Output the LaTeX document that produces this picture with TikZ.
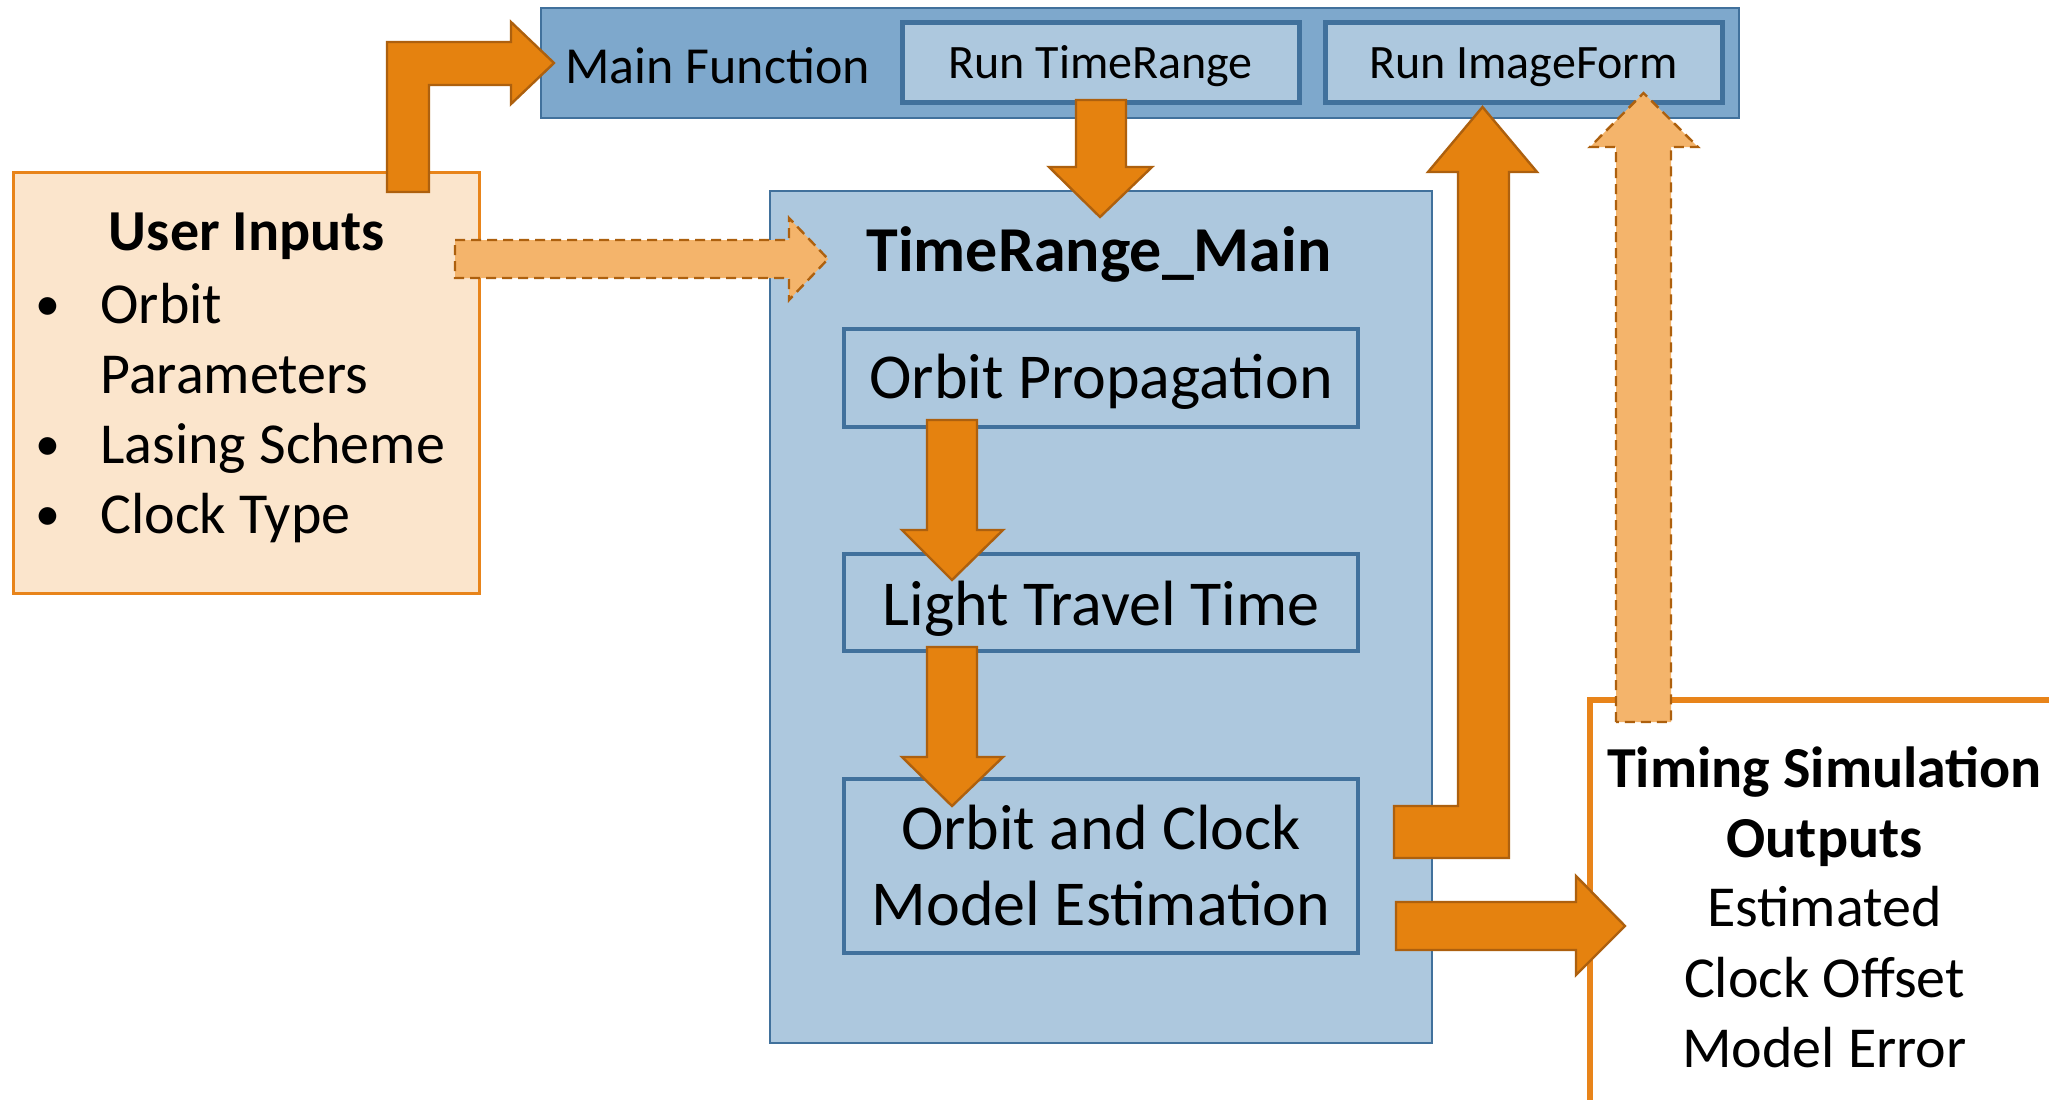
\documentclass[tikz,border=0pt]{standalone}
\usepackage{fontspec}
\setmainfont{Carlito}
\usetikzlibrary{fit}
\definecolor{barfill}{HTML}{7EA8CC}
\definecolor{boxfill}{HTML}{ADC8DE}
\definecolor{blueline}{HTML}{41719C}
\definecolor{orfill}{HTML}{E5820F}
\definecolor{orline}{HTML}{AD600E}
\definecolor{lightor}{HTML}{F4B46B}
\definecolor{userfill}{HTML}{FBE5CC}
\definecolor{userline}{HTML}{E8841A}
\newcommand{\fs}[1]{\fontsize{#1}{#1}\selectfont}
\tikzset{
  bar/.style={fill=barfill, draw=blueline, line width=1pt, inner sep=0pt},
  runbox/.style={fill=boxfill, draw=blueline, line width=2.5pt, inner sep=0pt},
  mainbox/.style={fill=boxfill, draw=blueline, line width=1pt, inner sep=0pt},
  stepbox/.style={fill=boxfill, draw=blueline, line width=2.4pt, inner sep=0pt},
  userbox/.style={fill=userfill, draw=userline, line width=1.5pt, inner sep=0pt},
  outbox/.style={fill=white, draw=userline, line width=3pt, inner sep=0pt},
  txt/.style={inner sep=0pt, anchor=base},
  blockarrow/.style={fill=orfill, draw=orline, line width=1.2pt, line join=miter},
  dasharrow/.style={fill=lightor, draw=orline, line width=1.2pt, dashed, dash pattern=on 5pt off 3pt, line join=miter}
}
\begin{document}
\begin{tikzpicture}[x=0.5pt, y=-0.5pt]
\useasboundingbox (0,0) rectangle (2049,1099);
\clip (0,0) rectangle (2049,1099);
\fill[white] (0,0) rectangle (2049,1099);

% top bar
\node[bar, fit={(541,8)(1739,118)}] (mainbar) {};
\node[runbox, fit={(902,22)(1299,102)}] (runtr) {};
\node[runbox, fit={(1325,22)(1722,102)}] (runif) {};
\node[txt, anchor=base west, font=\fs{26pt}] (mainfn) at (565,83) {Main Function};
\node[txt, font=\fs{24pt}] (runtrtxt) at (1100.5,78) {Run TimeRange};
\node[txt, font=\fs{24pt}] (runiftxt) at (1523.5,78) {Run ImageForm};

% TimeRange_Main
\node[mainbox, fit={(770,191)(1432,1043)}] (trmain) {};
\node[txt, font=\fs{32pt}\bfseries] (trtitle) at (1099,271) {TimeRange\_Main};
\node[stepbox, fit={(844,329)(1358,427)}] (orbprop) {};
\node[txt, font=\fs{32pt}] (orbproptxt) at (1101,398) {Orbit Propagation};
\node[stepbox, fit={(844,554)(1358,651)}] (ltt) {};
\node[txt, font=\fs{32pt}] (ltttxt) at (1101,625) {Light Travel Time};
\node[stepbox, fit={(844,779)(1358,953)}] (ocm) {};
\node[txt, font=\fs{32pt}] (ocmtxt1) at (1101,849) {Orbit and Clock};
\node[txt, font=\fs{32pt}] (ocmtxt2) at (1101,925) {Model Estimation};

% user inputs
\node[userbox, fit={(13,172)(479,593)}] (user) {};
\node[txt, font=\fs{29pt}\bfseries] (usertitle) at (247,250) {User Inputs};
\node[txt, font=\fs{25pt}] (b1) at (48,320) {•};
\node[txt, anchor=base west, font=\fs{29pt}] (u1) at (100,323) {Orbit};
\node[txt, anchor=base west, font=\fs{29pt}] (u1b) at (100,393) {Parameters};
\node[txt, font=\fs{25pt}] (b2) at (48,460) {•};
\node[txt, anchor=base west, font=\fs{29pt}] (u2) at (100,463) {Lasing Scheme};
\node[txt, font=\fs{25pt}] (b3) at (48,530) {•};
\node[txt, anchor=base west, font=\fs{29pt}] (u3) at (100,533) {Clock Type};

% outputs
\node[outbox, fit={(1590,700)(2080,1130)}] (outp) {};
\node[txt, font=\fs{29pt}\bfseries] (o1) at (1824.5,787) {Timing Simulation};
\node[txt, font=\fs{29pt}\bfseries] (o2) at (1824.5,857) {Outputs};
\node[txt, font=\fs{29pt}] (o3) at (1824.5,926) {Estimated};
\node[txt, font=\fs{29pt}] (o4) at (1824.5,997) {Clock Offset};
\node[txt, font=\fs{29pt}] (o5) at (1824.5,1067) {Model Error};

% arrows
\draw[blockarrow] (387,192) -- (387,42) -- (511,42) -- (511,22) -- (554,63) -- (511,104) -- (511,85) -- (429,85) -- (429,192) -- cycle;
\draw[dasharrow] (455,240) -- (789,240) -- (789,218) -- (828,259) -- (789,300) -- (789,278) -- (455,278) -- cycle;
\draw[blockarrow] (1076,100) -- (1126,100) -- (1126,167) -- (1152,167) -- (1100,217) -- (1049,167) -- (1076,167) -- cycle;
\draw[blockarrow] (927,420) -- (977,420) -- (977,530) -- (1003,530) -- (952,580) -- (902,530) -- (927,530) -- cycle;
\draw[blockarrow] (927,647) -- (977,647) -- (977,757) -- (1003,757) -- (952,806) -- (902,757) -- (927,757) -- cycle;
\draw[blockarrow] (1394,806) -- (1458,806) -- (1458,172) -- (1428,172) -- (1482.5,107) -- (1537,172) -- (1509,172) -- (1509,858) -- (1394,858) -- cycle;
\draw[blockarrow] (1396,902) -- (1576,902) -- (1576,876) -- (1625,926) -- (1576,975) -- (1576,950) -- (1396,950) -- cycle;
\draw[dasharrow] (1616,722) -- (1616,147) -- (1590,147) -- (1643.5,93) -- (1698,147) -- (1671,147) -- (1671,722) -- cycle;
\end{tikzpicture}
\end{document}
